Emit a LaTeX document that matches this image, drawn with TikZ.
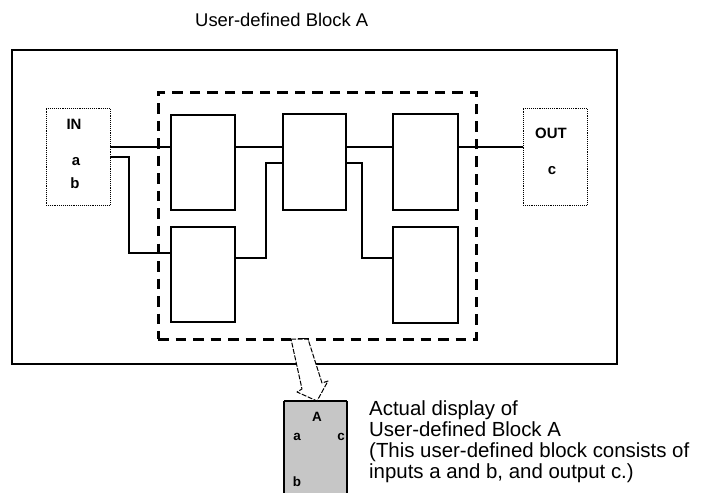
\documentclass[tikz,border=0pt]{standalone}
\usepackage{fontspec}
\setmainfont{Liberation Sans}
\usetikzlibrary{calc}
\definecolor{boxgray}{HTML}{C6C6C6}
\tikzset{
  blk/.style={draw, line width=1.8bp, inner sep=0pt, outer sep=0pt, anchor=north west},
  dotbox/.style={draw, densely dotted, line width=0.9bp, inner sep=0pt, outer sep=0pt, anchor=north west},
  wire/.style={line width=1.2bp},
  thickwire/.style={line width=2bp},
  lbl/.style={font=\fontsize{15}{15}\selectfont\bfseries, inner sep=0pt},
  glbl/.style={font=\fontsize{13.5}{13.5}\selectfont\bfseries, inner sep=0pt},
  txt/.style={font=\fontsize{20.5}{20.5}\selectfont, inner sep=0pt, anchor=base west},
}
\begin{document}
\begin{tikzpicture}[x=1bp,y=-1bp]
\useasboundingbox (0,0) rectangle (705,493);

% title
\node[font=\fontsize{18.5}{18.5}\selectfont, inner sep=0pt, anchor=base west] (title) at (195,27) {User-defined Block A};

% outer frame
\node[draw, line width=2bp, inner sep=0pt, outer sep=0pt, anchor=north west,
      minimum width=605bp, minimum height=314bp] (outer) at (12,50) {};

% dashed frame
\node[draw, line width=3bp, dash pattern=on 10.5bp off 7bp, inner sep=0pt, outer sep=0pt,
      anchor=north west, minimum width=318bp, minimum height=246bp] (frame) at (158,93) {};

% IN / OUT boxes
\node[dotbox, minimum width=64bp, minimum height=97bp] (inbox) at (46,108) {};
\node[lbl] (inlbl) at (74,124) {IN};
\node[lbl] (ina) at (76,162) {a};
\node[lbl] (inb) at (75,183) {b};

\node[dotbox, minimum width=64bp, minimum height=97bp] (outbox) at (523,108) {};
\node[lbl] (outlbl) at (551,133) {OUT};
\node[lbl] (outc) at (552,171) {c};

% blocks
\node[blk, minimum width=64bp, minimum height=95bp] (b1) at (171,115) {};
\node[blk, minimum width=64bp, minimum height=95bp] (b2) at (171,227) {};
\node[blk, minimum width=63bp, minimum height=96bp] (b3) at (283,114) {};
\node[blk, minimum width=65bp, minimum height=96bp] (b4) at (393,114) {};
\node[blk, minimum width=65bp, minimum height=96bp] (b5) at (393,227) {};

% helper rows / columns
\coordinate (r147) at (0,147);
\coordinate (r157) at (0,157);
\coordinate (r163) at (0,163);
\coordinate (r253) at (0,253);
\coordinate (r258) at (0,258);
\coordinate (c129) at (129,0);
\coordinate (c266) at (266,0);
\coordinate (c362) at (362,0);

% wires
\draw[wire] (inbox.east |- r147) -- (b1.west |- r147);
\draw[wire] (inbox.east |- r157) -- (c129 |- r157) -- (c129 |- r253) -- (b2.west |- r253);
\draw[wire] (b1.east |- r147) -- (b3.west |- r147);
\draw[wire] (b2.east |- r258) -- (c266 |- r258) -- (c266 |- r163) -- (b3.west |- r163);
\draw[wire] (b3.east |- r147) -- (b4.west |- r147);
\draw[wire] (b3.east |- r163) -- (c362 |- r163) -- (c362 |- r258) -- (b5.west |- r258);
\draw[thickwire] (b4.east |- r147) -- (outbox.west |- r147);

% displayed block
\node[fill=boxgray, inner sep=0pt, outer sep=0pt, anchor=north west,
      minimum width=63bp, minimum height=92bp] (disp) at (284,401) {};
\draw[line width=1.5bp] (disp.south west) -- (disp.north west);
\draw[line width=1.5bp] (disp.south east) -- (disp.north east);
\draw[line width=2.2bp] (disp.north west) -- (disp.north east);
\node[glbl] (da) at (317,417) {A};
\node[glbl] (dina) at (297,437) {a};
\node[glbl] (doutc) at (341,437) {c};
\node[glbl] (dinb) at (297,482) {b};

% hollow arrow
\coordinate (tip) at (317,401);
\draw[fill=white, line width=1bp, dash pattern=on 5bp off 1.5bp, line join=round]
  (291,339) -- (308,339) -- (322,383) -- (328,381) -- (tip) -- (297,392) -- (302,389) -- cycle;

% description
\node[txt] (t1) at (369,415) {Actual display of};
\node[txt] (t2) at (369,436) {User-defined Block A};
\node[txt] (t3) at (369,457) {(This user-defined block consists of};
\node[txt] (t4) at (369,478) {inputs a and b, and output c.)};
\end{tikzpicture}
\end{document}
